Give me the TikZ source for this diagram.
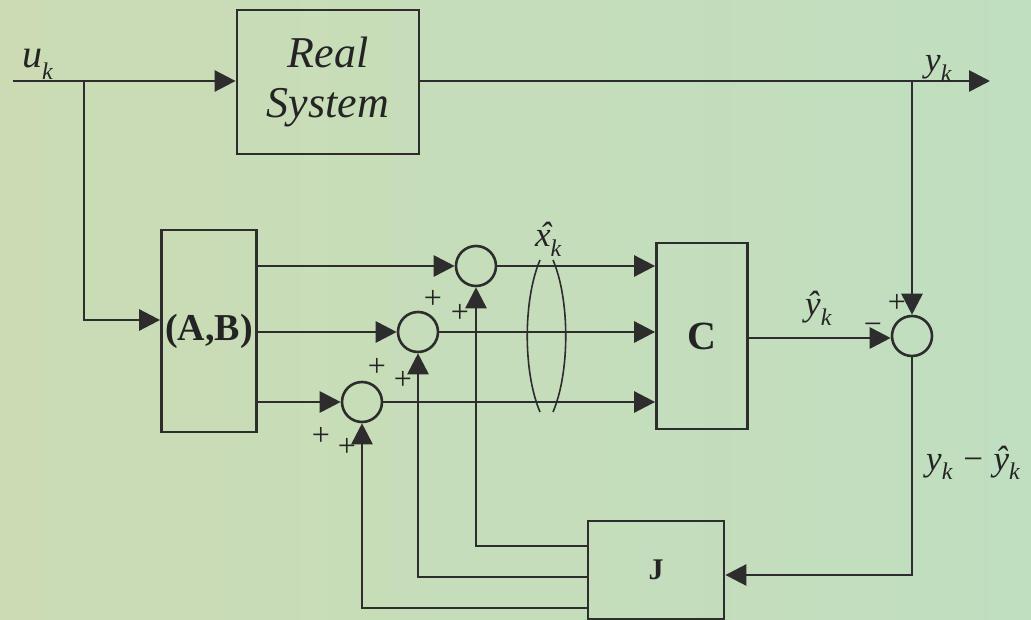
\documentclass[tikz,border=0pt]{standalone}
\usepackage{fontspec}
\setmainfont{Liberation Serif}
\usetikzlibrary{arrows.meta}
\definecolor{bgL}{RGB}{203,220,180}
\definecolor{bgR}{RGB}{192,222,192}
\definecolor{ln}{RGB}{45,45,45}
\definecolor{tx}{RGB}{36,36,36}
\newcommand\isub[2]{\textit{#1}\raisebox{-0.28em}{\fontsize{24}{24}\selectfont\textit{#2}}}
\newcommand\hatx{\textit{\ooalign{x\cr\hidewidth\kern0.12em\char"02C6\hidewidth\cr}}}
\tikzset{
  box/.style={draw=ln, line width=2.8pt, rectangle, inner sep=0pt, text=tx},
  sum/.style={circle, draw=ln, line width=2.6pt, minimum size=40pt, inner sep=0pt},
  conn/.style={draw=ln, line width=2.8pt, -{Triangle[length=21pt,width=21pt]}},
  lbl/.style={text=tx, inner sep=0pt, anchor=base west, font=\fontsize{35}{35}\selectfont},
  pl/.style={text=tx, inner sep=0pt, font=\fontsize{32}{32}\selectfont},
  paren/.style={draw=ln, line width=1.6pt}
}
\begin{document}
\begin{tikzpicture}[x=1pt,y=-1pt]
\shade[left color=bgL, right color=bgR] (0,0) rectangle (1031,620);
\useasboundingbox (0,0) rectangle (1031,620);

% blocks
\node[box, minimum width=182pt, minimum height=144pt, align=center,
      font=\fontsize{44}{50}\selectfont\itshape] (real) at (328,82) {Real\\System};
\node[box, minimum width=95pt, minimum height=202pt,
      font=\fontsize{38}{38}\selectfont\bfseries] (AB) at (209,331) {(A,B)};
\node[box, minimum width=91pt, minimum height=186pt,
      font=\fontsize{40}{40}\selectfont\bfseries] (C) at (702,336) {C};
\node[box, minimum width=136pt, minimum height=98pt,
      font=\fontsize{30}{30}\selectfont\bfseries] (J) at (656,570) {J};

% summing junctions
\node[sum] (s1) at (476,266) {};
\node[sum] (s2) at (418,332) {};
\node[sum] (s3) at (362,402) {};
\node[sum] (s4) at (912,336) {};

% coordinates
\coordinate (uin) at (13,81);
\coordinate (b1) at (84,81);
\coordinate (b2) at (84,320);
\coordinate (yout) at (990,81);
\coordinate (ytap) at (912,81);
\coordinate (jc) at (912,575);

% connectors
\draw[conn] (uin) -- (real.west |- uin);
\draw[conn] (b1) -- (b2) -- (AB.west |- b2);
\draw[conn] (real.east |- yout) -- (yout);
\draw[conn] (ytap) -- (s4.north);

\draw[conn] (AB.east |- s1) -- (s1.west);
\draw[conn] (AB.east |- s2) -- (s2.west);
\draw[conn] (AB.east |- s3) -- (s3.west);

\draw[conn] (s1.east) -- (C.west |- s1);
\draw[conn] (s2.east) -- (C.west |- s2);
\draw[conn] (s3.east) -- (C.west |- s3);

\draw[conn] (C.east |- 0,338) -- (s4.west |- 0,338);
\draw[conn] (s4.south) -- (jc) -- (J.east |- jc);

\draw[conn] (J.west |- 0,546) -| (s1.south);
\draw[conn] (J.west |- 0,577) -| (s2.south);
\draw[conn] (J.west |- 0,608) -| (s3.south);

% parentheses around state vector
\draw[paren] (540,260) .. controls (523,300) and (523,372) .. (540,412);
\draw[paren] (553,260) .. controls (570,300) and (570,372) .. (553,412);

% labels
\node[lbl, font=\fontsize{40}{40}\selectfont] (uk) at (22,68) {\isub{u}{k}};
\node[lbl] (yk) at (925,72) {\isub{y}{k}};
\node[lbl] (xh) at (535,247) {\isub{\hatx}{k}};
\node[lbl] (yh) at (805,316) {\isub{ŷ}{k}};
\node[lbl] (err) at (926,470) {\isub{y}{k}\hspace{0.3em}−\hspace{0.3em}\isub{ŷ}{k}};

% signs
\node[pl] (p1a) at (433,299) {+};
\node[pl] (p1b) at (460,313) {+};
\node[pl] (p2a) at (377,367) {+};
\node[pl] (p2b) at (403,380) {+};
\node[pl] (p3a) at (321,436) {+};
\node[pl] (p3b) at (347,447) {+};
\node[pl] (p4a) at (897,303) {+};
\node[pl] (m4) at (873,329) {−};
\end{tikzpicture}
\end{document}
